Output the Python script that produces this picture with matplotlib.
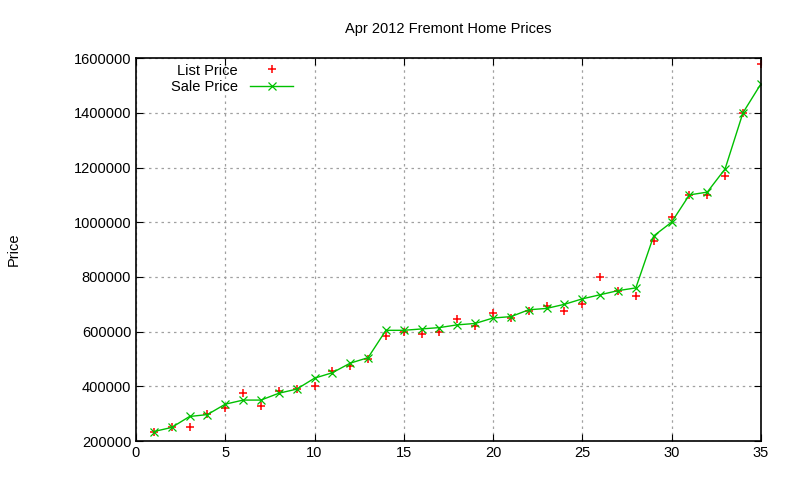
import matplotlib
matplotlib.use('Agg')
import matplotlib.pyplot as plt

# data
idx = list(range(1, 36))
sale_price = [235000, 250000, 290000, 297000, 335000, 350000, 350000, 375000, 390000, 430000,
              450000, 485000, 505000, 605000, 605000, 610000, 615000, 625000, 630000, 650000,
              655000, 680000, 685000, 700000, 720000, 735000, 750000, 760000, 950000, 1000000,
              1100000, 1110000, 1195000, 1400000, 1505000]
list_price = [235000, 250000, 250000, 300000, 320000, 375000, 330000, 385000, 390000, 400000,
              455000, 475000, 500000, 585000, 600000, 590000, 600000, 645000, 620000, 670000,
              650000, 675000, 695000, 675000, 700000, 800000, 750000, 730000, 930000, 1020000,
              1100000, 1100000, 1170000, 1400000, 1580000]

plt.rcParams['font.family'] = 'Liberation Sans'
plt.rcParams['font.size'] = 10.5

fig = plt.figure(figsize=(8, 4.8), dpi=100)
ax = fig.add_axes([0.17, 0.081, 0.781, 0.798])

ax.plot(idx, list_price, linestyle='none', marker='+', color='red', markersize=6,
        markeredgewidth=1.1, label='List Price')
ax.plot(idx, sale_price, color='#00c000', marker='x', markersize=5.5, linewidth=1,
        markeredgewidth=0.9, label='Sale Price')

ax.set_xlim(0, 35)
ax.set_ylim(200000, 1600000)
ax.set_xticks(range(0, 36, 5))
ax.set_yticks(range(200000, 1600001, 200000))
ax.set_yticklabels([str(v) for v in range(200000, 1600001, 200000)])
ax.grid(True, color='#a0a0a0', linestyle=(0, (2, 3)), linewidth=0.9)
ax.tick_params(direction='in', length=5, top=True, right=True, labelsize=10.5)
for s in ax.spines.values():
    s.set_linewidth(1.2)

ax.set_ylabel('Price', labelpad=38)
ax.set_title('Apr 2012 Fremont Home Prices', fontsize=10.5, pad=18)
ax.legend(loc='upper left', frameon=False, markerfirst=False, bbox_to_anchor=(0.035, 1.02),
          handlelength=3.0, labelspacing=0.2, fontsize=10.5)

fig.savefig('out.png')
